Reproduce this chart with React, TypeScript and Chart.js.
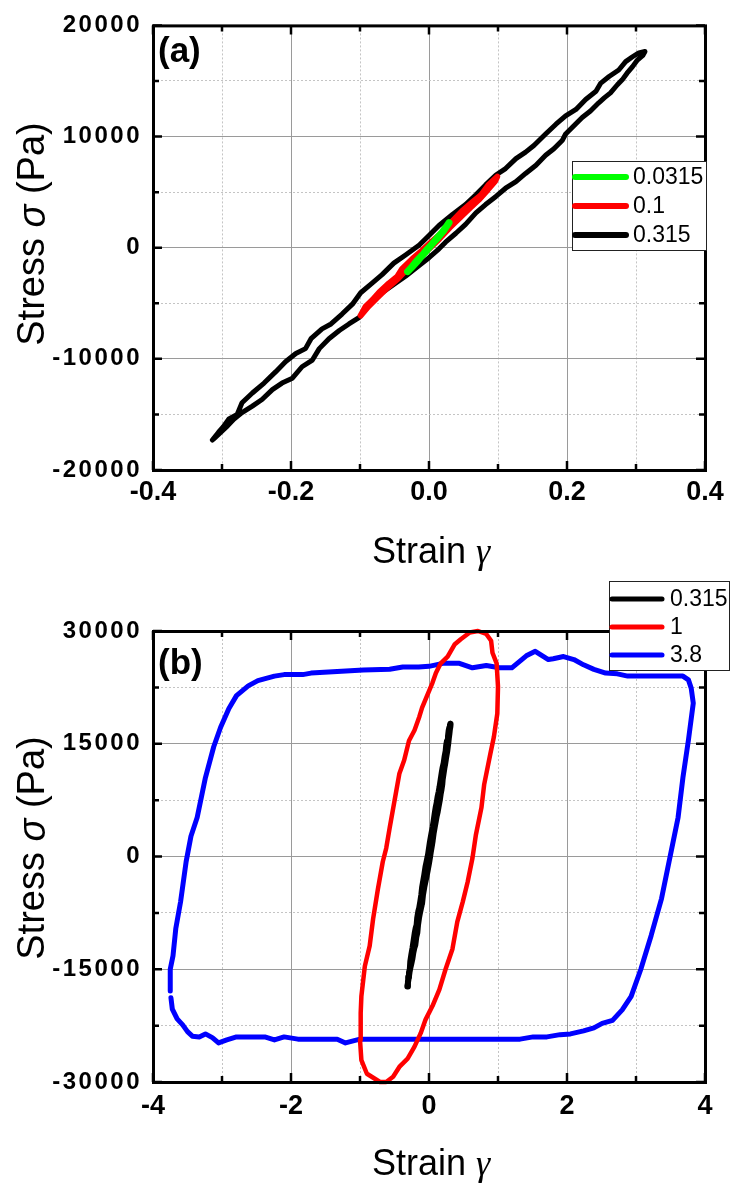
import React, { useEffect, useRef } from 'react';
import { Chart, registerables } from 'chart.js';

Chart.register(...registerables);

// ---------------- Panel (a) data ----------------
const legendA = ['0.0315', '0.1', '0.315'];

const strain0315 = [-0.031, -0.025, -0.020, -0.014, -0.008, -0.002, 0.004, 0.010, 0.016, 0.022, 0.029, 0.024, 0.018, 0.012, 0.006, 0.000, -0.006, -0.012, -0.018, -0.024, -0.031];
const stress0315 = [-2150, -1750, -1350, -950, -550, -100, 300, 700, 1150, 1600, 2250, 1800, 1300, 900, 450, 0, -450, -850, -1300, -1700, -2150];

const strain01Up = [-0.099, -0.092, -0.082, -0.072, -0.058, -0.046, -0.039, -0.024, -0.010, 0.005, 0.020, 0.034, 0.048, 0.063, 0.075, 0.087, 0.099];
const stress01Up = [-6100, -5300, -4700, -4000, -3200, -2600, -1900, -1000, -250, 600, 1400, 2400, 3300, 4100, 4700, 5700, 6400];
const strain01Down = [0.096, 0.085, 0.072, 0.060, 0.045, 0.030, 0.015, 0.000, -0.015, -0.030, -0.045, -0.060, -0.075, -0.088, -0.099];
const stress01Down = [6000, 5200, 4300, 3600, 2700, 1800, 800, -100, -900, -1800, -2800, -3600, -4500, -5300, -6100];

const strain315Up = [-0.314, -0.305, -0.298, -0.290, -0.278, -0.271, -0.256, -0.239, -0.222, -0.208, -0.193, -0.179, -0.171, -0.155, -0.142, -0.126, -0.111, -0.099, -0.082, -0.068, -0.051, -0.034, -0.014, 0.000, 0.0145, 0.034, 0.053, 0.068, 0.082, 0.097, 0.111, 0.126, 0.140, 0.152, 0.169, 0.184, 0.198, 0.213, 0.227, 0.242, 0.249, 0.261, 0.275, 0.285, 0.295, 0.304, 0.313];
const stress315Up = [-17300, -16600, -16100, -15400, -15000, -13950, -13070, -12180, -11150, -10260, -9520, -9080, -8190, -7300, -6860, -5970, -5080, -4050, -3170, -2420, -1390, -650, 240, 1100, 2000, 2990, 3880, 4760, 5650, 6540, 7120, 8010, 8600, 9200, 10230, 11110, 11860, 12440, 13330, 14070, 14810, 15400, 15990, 16740, 17180, 17530, 17650];
const strain315Down = [0.310, 0.302, 0.295, 0.287, 0.280, 0.273, 0.263, 0.254, 0.246, 0.234, 0.222, 0.210, 0.198, 0.193, 0.181, 0.169, 0.155, 0.140, 0.126, 0.111, 0.097, 0.082, 0.068, 0.053, 0.039, 0.024, 0.0145, 0.000, -0.019, -0.034, -0.048, -0.068, -0.087, -0.101, -0.116, -0.130, -0.145, -0.159, -0.169, -0.184, -0.198, -0.213, -0.227, -0.242, -0.256, -0.271, -0.283, -0.292, -0.302, -0.312, -0.314];
const stress315Down = [17300, 16880, 16290, 15700, 15100, 14660, 13930, 13480, 13040, 12300, 11710, 10970, 10230, 9640, 8900, 8310, 7420, 6680, 5940, 5350, 4610, 3880, 3130, 2100, 1300, 500, -100, -900, -1840, -2570, -3170, -4050, -5080, -6270, -6860, -7450, -8190, -9080, -10110, -10710, -11740, -12180, -12770, -13660, -14250, -14840, -15430, -16030, -16610, -17200, -17300];

// ---------------- Panel (b) data ----------------
const legendB = ['0.315', '1', '3.8'];

const strain1 = [-0.71, -0.90, -0.98, -1.00, -0.99, -0.98, -0.93, -0.86, -0.81, -0.74,
  -0.67, -0.62, -0.57, -0.50, -0.43, -0.36, -0.29, -0.21, -0.14, -0.10,
  -0.05, 0.05, 0.10, 0.17, 0.27, 0.37, 0.46, 0.59, 0.71, 0.83,
  0.90, 0.92, 0.98, 1.00, 0.99, 0.94, 0.89, 0.80, 0.76, 0.68,
  0.63, 0.56, 0.49, 0.41, 0.34, 0.24, 0.15, 0.05, -0.05, -0.12,
  -0.21, -0.31, -0.43, -0.52, -0.62, -0.71];
const stress1 = [-30000, -28900, -27100, -24400, -20800, -18600, -14600, -11900, -8300, -4300,
  -700, 1100, 3800, 7400, 11000, 12800, 15400, 16800, 18600, 19800,
  20900, 23100, 24400, 25700, 26600, 28200, 28900, 29800, 30000, 29600,
  28700, 27100, 25700, 22600, 19000, 15900, 13700, 9600, 6500, 2900,
  -200, -3400, -6000, -8700, -12300, -15000, -17700, -19900, -21700, -23500,
  -25300, -26900, -28000, -29300, -30000, -30000];

const strain38 = [-3.74, -3.72, -3.65, -3.57, -3.50, -3.43, -3.33, -3.24, -3.14, -3.05,
  -2.93, -2.79, -2.55, -2.38, -2.24, -2.10, -1.90, -1.60, -1.33, -1.21,
  -1.00, -0.50, 0.00, 0.60, 1.32, 1.51, 1.71, 1.90, 2.05, 2.24,
  2.39, 2.51, 2.66, 2.80, 2.93, 3.07, 3.22, 3.37, 3.49, 3.61,
  3.68, 3.76, 3.83, 3.80, 3.76, 3.68, 3.30, 2.88, 2.73, 2.56,
  2.39, 2.24, 2.10, 1.95, 1.80, 1.73, 1.54, 1.41, 1.20, 1.02,
  0.83, 0.63, 0.44, 0.20, 0.00, -0.15, -0.38, -0.57, -0.95, -1.33,
  -1.52, -1.71, -1.83, -2.10, -2.24, -2.48, -2.62, -2.79, -2.90, -3.02,
  -3.12, -3.24, -3.36, -3.45, -3.52, -3.60, -3.67, -3.71, -3.75, -3.75];
const stress38 = [-18800, -20300, -21600, -22400, -23300, -23900, -24000, -23600, -24100, -24800,
  -24400, -24000, -24000, -24000, -24400, -24000, -24300, -24300, -24300, -24800,
  -24300, -24300, -24300, -24300, -24300, -24000, -24000, -23700, -23600, -23200,
  -22800, -22200, -21800, -20400, -18600, -15000, -10500, -5600, -200, 5200,
  10500, 15500, 20400, 22400, 23500, 24000, 24000, 24000, 24300, 24400,
  24900, 25500, 26200, 26600, 26300, 26200, 27300, 26700, 25100, 25100,
  25400, 25100, 25700, 25700, 25300, 25200, 25200, 24900, 24800, 24600,
  24500, 24400, 24200, 24200, 24000, 23400, 22700, 21400, 19700, 17200,
  14600, 10500, 5200, 2700, -700, -6000, -9600, -13200, -15000, -17900];

// ---------------- Ticks ----------------
const xTicksA = [-0.4, -0.3, -0.2, -0.1, 0, 0.1, 0.2, 0.3, 0.4];
const xMajorA = [-0.4, -0.2, 0, 0.2, 0.4];
const xLabelsA = ['-0.4', '-0.2', '0.0', '0.2', '0.4'];
const yTicksA = [-20000, -15000, -10000, -5000, 0, 5000, 10000, 15000, 20000];
const yMajorA = [-20000, -10000, 0, 10000, 20000];
const yLabelsA = ['-20000', '-10000', '0', '10000', '20000'];

const xTicksB = [-4, -3, -2, -1, 0, 1, 2, 3, 4];
const xMajorB = [-4, -2, 0, 2, 4];
const xLabelsB = ['-4', '-2', '0', '2', '4'];
const yTicksB = [-30000, -22500, -15000, -7500, 0, 7500, 15000, 22500, 30000];
const yMajorB = [-30000, -15000, 0, 15000, 30000];
const yLabelsB = ['-30000', '-15000', '0', '15000', '30000'];

const SANS = "'Liberation Sans', Arial, sans-serif";
const SERIF = "'Liberation Serif', 'Times New Roman', serif";

const near = (a: number, b: number) => Math.abs(a - b) < 1e-6 * Math.max(1, Math.abs(a));
const isIn = (arr: number[], v: number) => arr.some((m) => near(m, v));
const labelFor = (major: number[], labels: string[], v: number) => {
  const i = major.findIndex((m) => near(m, v));
  return i >= 0 ? labels[i] : '';
};
const toPoints = (xs: number[], ys: number[]) => xs.map((x, i) => ({ x, y: ys[i] }));

type Series = { label: string; xs: number[]; ys: number[]; color: string; width: number };
type Panel = {
  height: number;
  padTop: number;
  padRight: number;
  yAxisWidth: number;
  xAxisHeight: number;
  xMin: number; xMax: number; yMin: number; yMax: number;
  xTicks: number[]; xMajor: number[]; xLabels: string[];
  yTicks: number[]; yMajor: number[]; yLabels: string[];
  xPad: number; yPad: number;
  series: Series[];
  legend: { x: number; y: number; w: number; h: number; x1: number; x2: number; tx: number; rows: number[]; lw: number };
  tag: string; tagX: number; tagY: number;
  xTitleBase: number; yTitleCY: number;
};

const panelA: Panel = {
  height: 580, padTop: 19, padRight: 26, yAxisWidth: 153, xAxisHeight: 110,
  xMin: -0.4, xMax: 0.4, yMin: -20000, yMax: 20000,
  xTicks: xTicksA, xMajor: xMajorA, xLabels: xLabelsA,
  yTicks: yTicksA, yMajor: yMajorA, yLabels: yLabelsA,
  xPad: 6, yPad: 11,
  series: [
    { label: legendA[0], xs: strain0315, ys: stress0315, color: '#00ff00', width: 7 },
    { label: legendA[1], xs: strain01Up.concat(strain01Down), ys: stress01Up.concat(stress01Down), color: '#ff0000', width: 6 },
    { label: legendA[2], xs: strain315Up.concat(strain315Down), ys: stress315Up.concat(stress315Down), color: '#000000', width: 5 },
  ],
  legend: { x: 572.5, y: 161.5, w: 134, h: 89, x1: 575, x2: 626, tx: 633, rows: [177, 206, 235], lw: 6 },
  tag: '(a)', tagX: 158, tagY: 62,
  xTitleBase: 563, yTitleCY: 234,
};

const panelB: Panel = {
  height: 607, padTop: 51, padRight: 26, yAxisWidth: 153, xAxisHeight: 105,
  xMin: -4, xMax: 4, yMin: -30000, yMax: 30000,
  xTicks: xTicksB, xMajor: xMajorB, xLabels: xLabelsB,
  yTicks: yTicksB, yMajor: yMajorB, yLabels: yLabelsB,
  xPad: 8, yPad: 11,
  series: [
    { label: legendB[0], xs: strain315Up.concat(strain315Down), ys: stress315Up.concat(stress315Down), color: '#000000', width: 6 },
    { label: legendB[1], xs: strain1, ys: stress1, color: '#ff0000', width: 4.5 },
    { label: legendB[2], xs: strain38, ys: stress38, color: '#0000ff', width: 5 },
  ],
  legend: { x: 609.5, y: 1.5, w: 120, h: 89, x1: 612, x2: 662, tx: 670, rows: [19, 47, 75], lw: 5 },
  tag: '(b)', tagX: 158, tagY: 94,
  xTitleBase: 595, yTitleCY: 268,
};

function drawRich(ctx: CanvasRenderingContext2D, parts: [string, string][], cx: number, y: number) {
  let total = 0;
  const widths = parts.map(([t, f]) => {
    ctx.font = f;
    const w = ctx.measureText(t).width;
    total += w;
    return w;
  });
  let x = cx - total / 2;
  ctx.textAlign = 'left';
  parts.forEach(([t, f], i) => {
    ctx.font = f;
    ctx.fillText(t, x, y);
    x += widths[i];
  });
}

function makePlugin(p: Panel) {
  return {
    id: 'decor',
    afterDatasetsDraw(chart: any) {
      const ctx: CanvasRenderingContext2D = chart.ctx;
      const { left, top, right, bottom } = chart.chartArea;
      const xs = chart.scales.x;
      const ys = chart.scales.y;
      ctx.save();
      ctx.strokeStyle = '#000';
      ctx.lineWidth = 2.5;
      ctx.beginPath();
      p.xTicks.forEach((v) => {
        const px = xs.getPixelForValue(v);
        const len = isIn(p.xMajor, v) ? 9 : 6;
        ctx.moveTo(px, bottom); ctx.lineTo(px, bottom - len);
        ctx.moveTo(px, top); ctx.lineTo(px, top + len);
      });
      p.yTicks.forEach((v) => {
        const py = ys.getPixelForValue(v);
        const len = isIn(p.yMajor, v) ? 9 : 6;
        ctx.moveTo(left, py); ctx.lineTo(left + len, py);
        ctx.moveTo(right, py); ctx.lineTo(right - len, py);
      });
      ctx.stroke();
      ctx.lineWidth = 3;
      ctx.strokeRect(left + 0.5, top + 0.5, right - left, bottom - top);
      ctx.restore();
      (ctx as any).letterSpacing = '2.5px';
    },
    afterDraw(chart: any) {
      const ctx: CanvasRenderingContext2D = chart.ctx;
      (ctx as any).letterSpacing = '0px';
      const { left, right } = chart.chartArea;
      ctx.save();
      ctx.fillStyle = '#000';
      // panel tag
      ctx.font = `bold 35px ${SANS}`;
      ctx.textAlign = 'left';
      ctx.textBaseline = 'alphabetic';
      ctx.fillText(p.tag, p.tagX, p.tagY);
      // x title
      drawRich(ctx, [['Strain ', `36px ${SANS}`], ['\u03b3', `italic 36px ${SERIF}`]], (left + right) / 2 + 2, p.xTitleBase);
      // y title
      ctx.save();
      ctx.translate(34, p.yTitleCY);
      ctx.rotate(-Math.PI / 2);
      ctx.textBaseline = 'middle';
      drawRich(ctx, [['Stress ', `38px ${SANS}`], ['\u03c3', `italic 38px ${SANS}`], [' (Pa)', `38px ${SANS}`]], 0, 0);
      ctx.restore();
      // legend
      const L = p.legend;
      ctx.fillStyle = '#fff';
      ctx.fillRect(L.x, L.y, L.w, L.h);
      ctx.strokeStyle = '#222';
      ctx.lineWidth = 1;
      ctx.strokeRect(L.x, L.y, L.w, L.h);
      ctx.lineCap = 'round';
      ctx.font = `23px ${SANS}`;
      ctx.textAlign = 'left';
      ctx.textBaseline = 'middle';
      p.series.forEach((s, i) => {
        const y = L.rows[i];
        ctx.strokeStyle = s.color;
        ctx.lineWidth = L.lw;
        ctx.beginPath();
        ctx.moveTo(L.x1, y);
        ctx.lineTo(L.x2, y);
        ctx.stroke();
        ctx.fillStyle = '#000';
        ctx.fillText(s.label, L.tx, y + 1);
      });
      ctx.restore();
    },
  };
}

function buildConfig(p: Panel): any {
  const gridColor = (c: any) => (c.tick && isIn(c.scale.axis === 'x' ? p.xMajor : p.yMajor, c.tick.value) ? '#9a9a9a' : '#c4c4c4');
  const gridDash = (c: any) => (c.tick && isIn(c.scale.axis === 'x' ? p.xMajor : p.yMajor, c.tick.value) ? [] : [2, 2]);
  return {
    type: 'scatter',
    data: {
      datasets: p.series.map((s) => ({
        label: s.label,
        data: toPoints(s.xs, s.ys),
        showLine: true,
        borderColor: s.color,
        backgroundColor: s.color,
        borderWidth: s.width,
        pointRadius: 0,
        pointHoverRadius: 0,
        fill: false,
        tension: 0,
        borderCapStyle: 'round',
        borderJoinStyle: 'round',
        clip: false,
      })),
    },
    options: {
      animation: false,
      responsive: false,
      devicePixelRatio: 1,
      events: [],
      layout: { padding: { top: p.padTop, right: p.padRight, left: 0, bottom: 0 } },
      plugins: { legend: { display: false }, tooltip: { enabled: false }, title: { display: false } },
      scales: {
        x: {
          type: 'linear',
          min: p.xMin,
          max: p.xMax,
          afterBuildTicks: (s: any) => { s.ticks = p.xTicks.map((v) => ({ value: v })); },
          afterFit: (s: any) => { s.height = p.xAxisHeight; },
          ticks: {
            autoSkip: false,
            maxRotation: 0,
            padding: p.xPad,
            color: '#000',
            font: { family: SANS, size: 27, weight: 'bold' },
            callback: (v: number) => labelFor(p.xMajor, p.xLabels, v),
          },
          grid: { drawTicks: false, color: gridColor, lineWidth: 1 },
          border: { display: false, dash: gridDash },
        },
        y: {
          type: 'linear',
          min: p.yMin,
          max: p.yMax,
          afterBuildTicks: (s: any) => { s.ticks = p.yTicks.map((v) => ({ value: v })); },
          afterFit: (s: any) => { s.width = p.yAxisWidth; },
          ticks: {
            z: 1,
            autoSkip: false,
            padding: p.yPad,
            color: '#000',
            font: { family: SANS, size: 24, weight: 'bold' },
            callback: (v: number) => labelFor(p.yMajor, p.yLabels, v),
          },
          grid: { drawTicks: false, color: gridColor, lineWidth: 1 },
          border: { display: false, dash: gridDash },
        },
      },
    },
    plugins: [makePlugin(p)],
  };
}

function PanelChart({ p, top }: { p: Panel; top: number }) {
  const ref = useRef<HTMLCanvasElement>(null);
  useEffect(() => {
    const chart = new Chart(ref.current as HTMLCanvasElement, buildConfig(p));
    return () => chart.destroy();
  }, []);
  return (
    <canvas
      ref={ref}
      width={731}
      height={p.height}
      style={{ position: 'absolute', left: 0, top, width: 731, height: p.height, display: 'block' }}
    />
  );
}

export default function App() {
  return (
    <div style={{ position: 'absolute', left: 0, top: 0, width: 731, height: 1187, background: '#fff', overflow: 'hidden' }}>
      <PanelChart p={panelA} top={0} />
      <PanelChart p={panelB} top={580} />
    </div>
  );
}
